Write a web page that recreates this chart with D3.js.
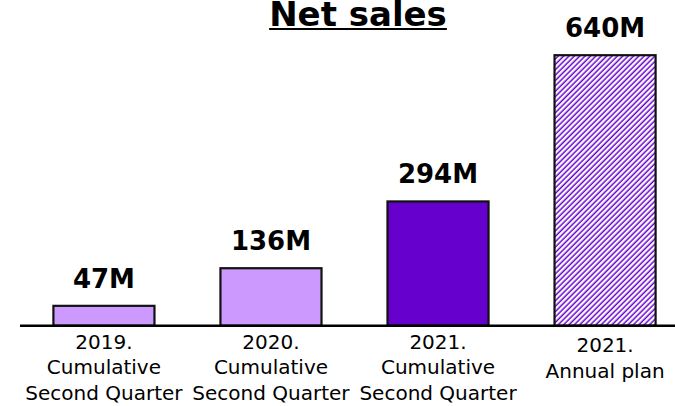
<!DOCTYPE html>
<html>
<head>
<meta charset="utf-8">
<script src="https://cdn.jsdelivr.net/npm/d3@7"></script>
<style>
  html, body { margin: 0; padding: 0; background: #fff; }
  svg { display: block; }
</style>
</head>
<body>
<svg id="chart" width="675" height="406"></svg>
<script>
const title = "Net sales";
const categories = [
  ["2019.", "Cumulative", "Second Quarter"],
  ["2020.", "Cumulative", "Second Quarter"],
  ["2021.", "Cumulative", "Second Quarter"],
  ["2021.", "Annual plan"]
];
const values = [47, 136, 294, 640];
const valueLabels = ["47M", "136M", "294M", "640M"];
const fills = ["#CC99FF", "#CC99FF", "#6600CC", "hatch"];

const svg = d3.select("#chart");
const baseY = 325.7;

const x = d3.scaleBand()
  .domain(d3.range(values.length))
  .range([20, 689])
  .paddingInner(0.395)
  .paddingOuter(0.2);

const y = d3.scaleLinear()
  .domain([0, 640])
  .range([baseY, 55.2]);

// hatch pattern
const defs = svg.append("defs");
const pat = defs.append("pattern")
  .attr("id", "hatch")
  .attr("patternUnits", "userSpaceOnUse")
  .attr("width", 3.8)
  .attr("height", 3.8)
  .attr("patternTransform", "rotate(45)");
pat.append("rect").attr("width", 3.8).attr("height", 3.8).attr("fill", "#fff");
pat.append("line")
  .attr("x1", 1.2).attr("y1", 0).attr("x2", 1.2).attr("y2", 3.8)
  .attr("stroke", "#6600CC").attr("stroke-width", 1.5);

// title
const t = svg.append("text")
  .attr("x", 358)
  .attr("y", 26)
  .attr("text-anchor", "middle")
  .attr("font-family", "DejaVu Sans, Verdana, sans-serif")
  .attr("font-weight", "bold")
  .attr("font-size", 34)
  .attr("fill", "#000")
  .text(title);
const tl = t.node().getComputedTextLength();
svg.append("line")
  .attr("x1", 358 - tl / 2).attr("x2", 358 + tl / 2)
  .attr("y1", 29).attr("y2", 29)
  .attr("stroke", "#000").attr("stroke-width", 2.2);

// bars
svg.selectAll("rect.bar")
  .data(values)
  .join("rect")
  .attr("class", "bar")
  .attr("x", (d, i) => x(i))
  .attr("y", d => y(d))
  .attr("width", x.bandwidth())
  .attr("height", d => y(0) - y(d))
  .attr("fill", (d, i) => fills[i] === "hatch" ? "url(#hatch)" : fills[i])
  .attr("stroke", "#111")
  .attr("stroke-width", 2.2);

// value labels
svg.selectAll("text.val")
  .data(values)
  .join("text")
  .attr("class", "val")
  .attr("x", (d, i) => x(i) + x.bandwidth() / 2)
  .attr("y", d => y(d) - 18)
  .attr("text-anchor", "middle")
  .attr("font-family", "DejaVu Sans, Verdana, sans-serif")
  .attr("font-weight", "bold")
  .attr("font-size", 26)
  .attr("fill", "#000")
  .text((d, i) => valueLabels[i]);

// baseline axis
svg.append("line")
  .attr("x1", 20).attr("x2", 675)
  .attr("y1", baseY).attr("y2", baseY)
  .attr("stroke", "#000").attr("stroke-width", 2.5);

// category labels
const cat = svg.selectAll("text.cat")
  .data(categories)
  .join("text")
  .attr("class", "cat")
  .attr("text-anchor", "middle")
  .attr("font-family", "DejaVu Sans, Verdana, sans-serif")
  .attr("font-size", 20)
  .attr("fill", "#000")
  .attr("transform", (d, i) => `translate(${x(i) + x.bandwidth() / 2},${d.length === 2 ? 352 : 348.5})`);
cat.selectAll("tspan")
  .data(d => d)
  .join("tspan")
  .attr("x", 0)
  .attr("y", (d, j) => j * 25.5)
  .text(d => d);
</script>
</body>
</html>
